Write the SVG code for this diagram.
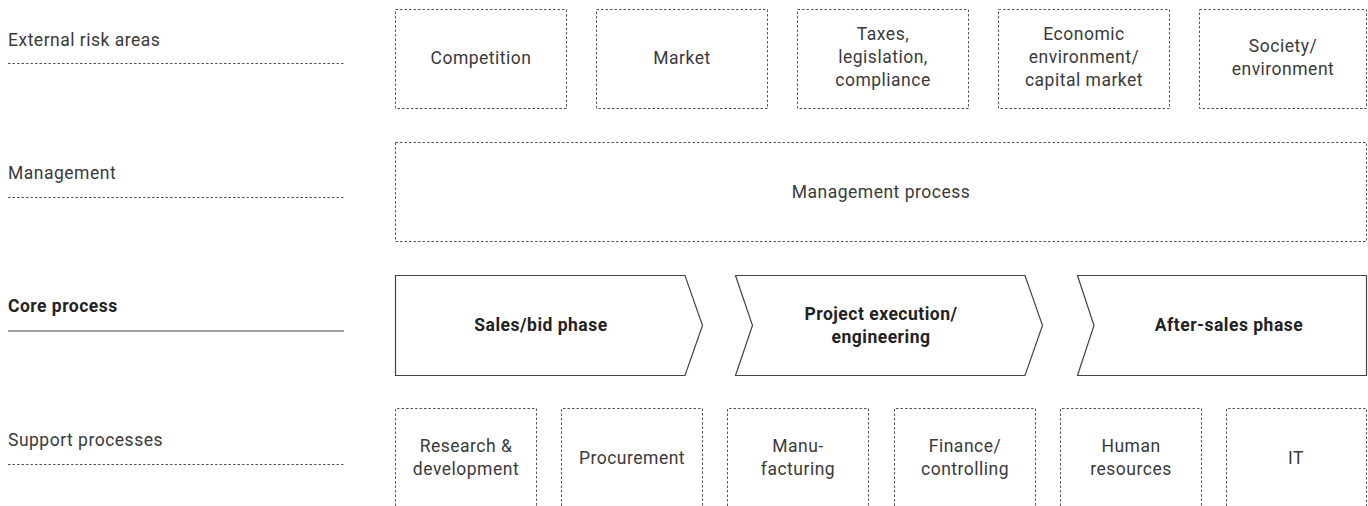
<svg xmlns="http://www.w3.org/2000/svg" width="1368" height="506" viewBox="0 0 1368 506">
<style>
text{font-family:Roboto,"Liberation Sans",sans-serif;font-size:17.5px;letter-spacing:0.5px;fill:#3a3a3a;}
.c{text-anchor:middle;}
.b{font-weight:bold;fill:#222;}
.d{fill:none;stroke:#555;stroke-width:1;stroke-dasharray:2.5 2;}
.s{fill:none;stroke:#444;stroke-width:1.2;}
.sl{stroke:#444;stroke-width:1.2;}
</style>
<rect width="1368" height="506" fill="#fff"/>
<g id="lanes">
<g id="lane-external"><text x="8" y="46">External risk areas</text><line class="d" x1="8" y1="63.5" x2="344" y2="63.5"/></g>
<g id="lane-management"><text x="8" y="179">Management</text><line class="d" x1="8" y1="197.5" x2="344" y2="197.5"/></g>
<g id="lane-core"><text class="b" x="8" y="312">Core process</text><line class="sl" x1="8" y1="331" x2="344" y2="331"/></g>
<g id="lane-support"><text x="8" y="446">Support processes</text><line class="d" x1="8" y1="464.5" x2="344" y2="464.5"/></g>
</g>
<g id="external">
<g id="competition"><rect class="d" x="395.5" y="9.5" width="171" height="99"/><text class="c" x="481" y="64">Competition</text></g>
<g id="market"><rect class="d" x="596.5" y="9.5" width="171" height="99"/><text class="c" x="682" y="64">Market</text></g>
<g id="taxes"><rect class="d" x="797.5" y="9.5" width="171" height="99"/><text class="c" x="883" y="40">Taxes,</text><text class="c" x="883" y="63">legislation,</text><text class="c" x="883" y="86">compliance</text></g>
<g id="economic"><rect class="d" x="998.5" y="9.5" width="171" height="99"/><text class="c" x="1084" y="40">Economic</text><text class="c" x="1084" y="63">environment/</text><text class="c" x="1084" y="86">capital market</text></g>
<g id="society"><rect class="d" x="1199.5" y="9.5" width="167" height="99"/><text class="c" x="1283" y="52">Society/</text><text class="c" x="1283" y="75">environment</text></g>
</g>
<g id="management">
<rect class="d" x="395.5" y="142.5" width="971" height="99"/><text class="c" x="881" y="198">Management process</text>
</g>
<g id="core">
<g id="sales"><path class="s" d="M395.5 275.5 H685 L702.5 325.5 L685 375.5 H395.5 Z"/><text class="c b" x="541" y="331">Sales/bid phase</text></g>
<g id="project"><path class="s" d="M735.5 275.5 H1025 L1042.5 325.5 L1025 375.5 H735.5 L752.5 325.5 Z"/><text class="c b" x="881" y="320">Project execution/</text><text class="c b" x="881" y="343">engineering</text></g>
<g id="aftersales"><path class="s" d="M1366.5 275.5 H1077.5 L1094 325.5 L1077.5 375.5 H1366.5 Z"/><text class="c b" x="1229" y="331">After-sales phase</text></g>
</g>
<g id="support">
<g id="rnd"><path class="d" d="M395.5 506 V408.5 H536.5 V506"/><text class="c" x="466" y="452">Research &amp;</text><text class="c" x="466" y="475">development</text></g>
<g id="procurement"><path class="d" d="M561.5 506 V408.5 H702.5 V506"/><text class="c" x="632" y="464">Procurement</text></g>
<g id="manufacturing"><path class="d" d="M727.5 506 V408.5 H868.5 V506"/><text class="c" x="798" y="452">Manu-</text><text class="c" x="798" y="475">facturing</text></g>
<g id="finance"><path class="d" d="M894.5 506 V408.5 H1035.5 V506"/><text class="c" x="965" y="452">Finance/</text><text class="c" x="965" y="475">controlling</text></g>
<g id="hr"><path class="d" d="M1060.5 506 V408.5 H1201.5 V506"/><text class="c" x="1131" y="452">Human</text><text class="c" x="1131" y="475">resources</text></g>
<g id="it"><path class="d" d="M1226.5 506 V408.5 H1366.5 V506"/><text class="c" x="1296" y="464">IT</text></g>
</g>
<g id="connectors"></g>
</svg>
